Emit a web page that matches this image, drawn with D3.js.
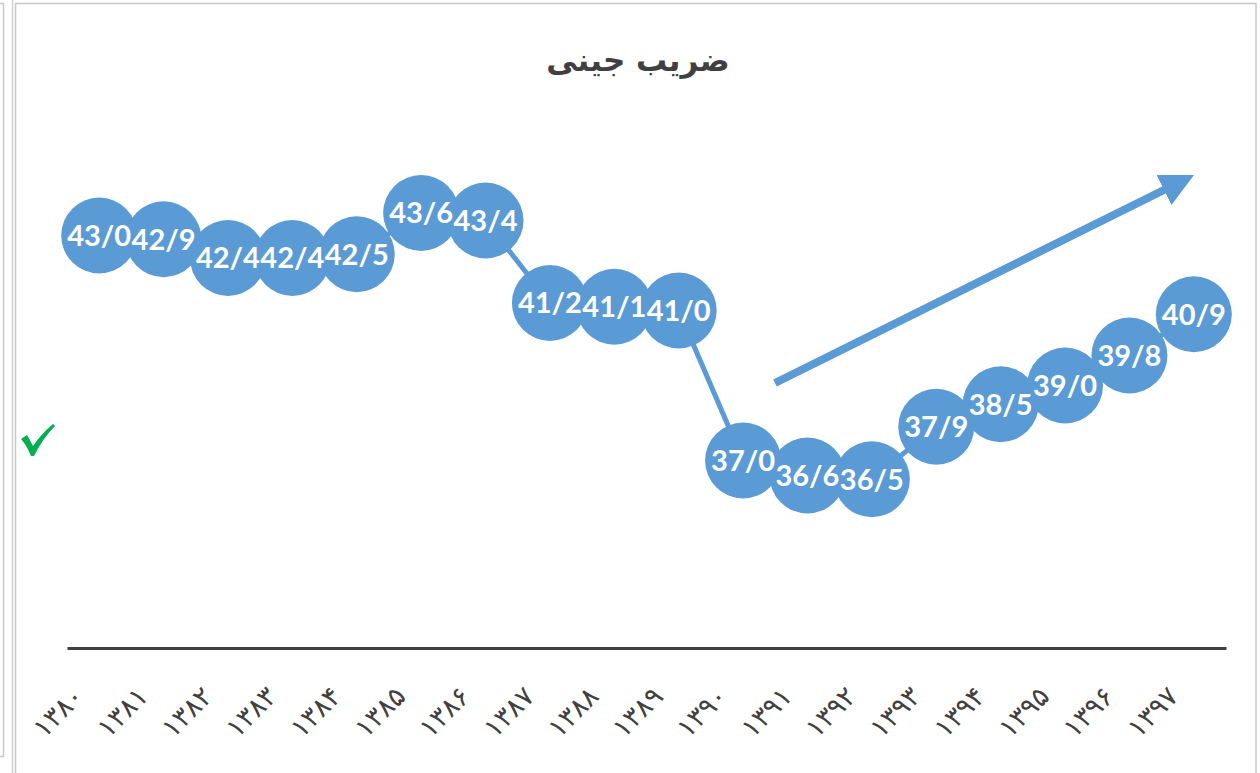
<!DOCTYPE html>
<html><head><meta charset="utf-8">
<script src="https://cdn.jsdelivr.net/npm/d3@7"></script>
<style>body{margin:0;background:#fff}svg{display:block}</style>
</head><body>
<script>
const years = ["۱۳۸۰","۱۳۸۱","۱۳۸۲","۱۳۸۳","۱۳۸۴","۱۳۸۵","۱۳۸۶","۱۳۸۷","۱۳۸۸","۱۳۸۹","۱۳۹۰","۱۳۹۱","۱۳۹۲","۱۳۹۳","۱۳۹۴","۱۳۹۵","۱۳۹۶","۱۳۹۷"];
const gini = [43.0,42.9,42.4,42.4,42.5,43.6,43.4,41.2,41.1,41.0,37.0,36.6,36.5,37.9,38.5,39.0,39.8,40.9];
const title = "ضریب جینی";
const yDomain = [32, 46];

const W = 1260, H = 773;
const blue = "#5B9BD5";
const svg = d3.select("body").append("svg").attr("width", W).attr("height", H);

// outer frames
svg.append("path").attr("d","M0,3.5H3.5V756.5H0").attr("fill","none").attr("stroke","#c8c8c8").attr("stroke-width",1.5);
svg.append("line").attr("x1",12.5).attr("x2",12.5).attr("y1",0).attr("y2",H).attr("stroke","#d0d0d0").attr("stroke-width",1.5);
svg.append("rect").attr("x",15.5).attr("y",3.5).attr("width",1240.5).attr("height",800)
  .attr("fill","#fff").attr("stroke","#c8c8c8").attr("stroke-width",1.5);

const x = d3.scaleBand().domain(years).range([67, 1226]).padding(0);
const y = d3.scaleLinear().domain(yDomain).range([648, 123]);
const cx = d => x(d) + x.bandwidth()/2;

// title
svg.append("text").attr("x", 638).attr("y", 71).attr("text-anchor","middle")
  .attr("font-family","DejaVu Sans, Noto Sans").attr("font-weight","bold").attr("font-size",31)
  .attr("fill","#404040").text(title);

// axis
const xAxis = d3.axisBottom(x).tickSize(0).tickPadding(0);
const gx = svg.append("g").attr("transform","translate(0,648)").call(xAxis);
gx.select(".domain").attr("stroke","#404040").attr("stroke-width",3);
gx.selectAll(".tick text")
  .attr("font-family","DejaVu Sans").attr("font-size",27).attr("fill","#404040")
  .attr("text-anchor","end").attr("dy",0)
  .attr("transform","translate(-14,50) rotate(-45)");

// line
const data = years.map((yr,i)=>({yr, v: gini[i]}));
svg.append("path").datum(data)
  .attr("d", d3.line().x(d=>cx(d.yr)).y(d=>y(d.v)))
  .attr("fill","none").attr("stroke",blue).attr("stroke-width",5);

// markers
svg.selectAll("circle.m").data(data).join("circle").attr("class","m")
  .attr("cx", d=>cx(d.yr)).attr("cy", d=>y(d.v)).attr("r",38).attr("fill",blue);

// labels
const fmt = v => v.toFixed(1).replace(".","/");
svg.selectAll("text.lbl").data(data).join("text").attr("class","lbl")
  .attr("x", d=>cx(d.yr)).attr("y", d=>y(d.v)).attr("dy","0.36em")
  .attr("text-anchor","middle").attr("font-family","Lato, Open Sans, sans-serif")
  .attr("font-weight","bold").attr("font-size",29).attr("fill","#fff")
  .text(d=>fmt(d.v));

// trend arrow
const defs = svg.append("defs");
defs.append("marker").attr("id","ah").attr("viewBox","0 0 10 10").attr("refX",2).attr("refY",5)
  .attr("markerWidth",4.2).attr("markerHeight",4.2).attr("orient","auto")
  .append("path").attr("d","M0,0L10,5L0,10Z").attr("fill",blue);
svg.append("line").attr("x1",775).attr("y1",383).attr("x2",1170).attr("y2",187)
  .attr("stroke",blue).attr("stroke-width",8).attr("marker-end","url(#ah)");

// check mark (decorative)
svg.append("path")
  .attr("d","M21,439 L27,435 Q30,440 33,446 Q42,433 53,424 L55,426 Q43,438 34,456 L31,456 Q27,446 21,439 Z")
  .attr("fill","#00B050");
</script>
</body></html>
